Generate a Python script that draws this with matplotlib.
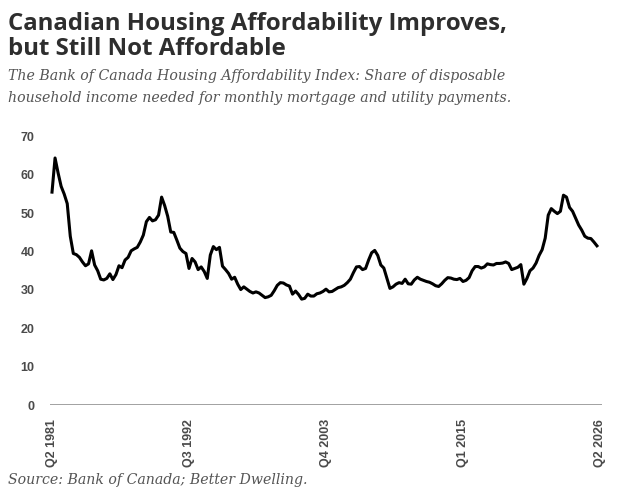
import matplotlib
matplotlib.use('Agg')
import matplotlib.pyplot as plt

# Bank of Canada Housing Affordability Index, quarterly from Q2 1981
hai = [55.5, 64.4, 60.5, 57.0, 55.0, 52.5, 44.0, 39.5, 39.2, 38.5,
       37.3, 36.3, 36.8, 40.2, 36.5, 35.0, 32.8, 32.6, 33.0, 34.2,
       32.7, 34.0, 36.3, 35.8, 37.8, 38.5, 40.2, 40.7, 41.1, 42.5,
       44.3, 47.8, 48.9, 48.0, 48.3, 49.5, 54.2, 52.0, 49.2, 45.1,
       45.0, 43.0, 40.9, 40.0, 39.5, 35.6, 38.2, 37.3, 35.3, 36.0,
       34.8, 33.0, 39.1, 41.3, 40.5, 41.1, 36.2, 35.3, 34.3, 32.8,
       33.3, 31.5, 30.1, 30.8, 30.2, 29.6, 29.2, 29.5, 29.2, 28.6,
       28.0, 28.2, 28.6, 29.8, 31.2, 31.9, 31.8, 31.3, 31.0, 28.9,
       29.7, 28.8, 27.6, 27.8, 28.9, 28.4, 28.4, 29.0, 29.2, 29.6,
       30.2, 29.5, 29.6, 30.1, 30.6, 30.8, 31.2, 31.9, 32.8, 34.5,
       36.0, 36.1, 35.3, 35.6, 37.8, 39.7, 40.3, 39.0, 36.5, 35.7,
       33.0, 30.4, 30.8, 31.5, 31.9, 31.7, 32.8, 31.6, 31.5, 32.6,
       33.3, 32.8, 32.5, 32.2, 32.0, 31.6, 31.1, 30.9, 31.6, 32.5,
       33.2, 33.1, 32.8, 32.7, 33.0, 32.2, 32.5, 33.2, 35.0, 36.1,
       36.1, 35.7, 36.0, 36.8, 36.6, 36.5, 36.9, 36.9, 37.0, 37.3,
       36.9, 35.3, 35.6, 35.9, 36.6, 31.5, 33.0, 35.0, 35.7, 37.0,
       39.0, 40.5, 43.5, 49.5, 51.2, 50.5, 49.9, 50.5, 54.7, 54.2,
       51.5, 50.5, 48.7, 46.9, 45.6, 44.0, 43.5, 43.4, 42.5, 41.5]

n_quarters = 181
quarters = []
q, yr = 2, 1981
for i in range(n_quarters):
    quarters.append('Q{} {}'.format(q, yr))
    q += 1
    if q > 4:
        q = 1
        yr += 1
tick_idx = [0, 45, 90, 135, 180]
y_ticks = [0, 10, 20, 30, 40, 50, 60, 70]

W, H = 640, 494
fig = plt.figure(figsize=(W / 100, H / 100), dpi=100)
fig.patch.set_facecolor('white')
ax = fig.add_axes([50 / W, 1 - 405 / H, 552 / W, (405 - 136.5) / H])

ax.plot(range(len(hai)), hai, color='black', lw=2.2, solid_joinstyle='round')
ax.axhline(0, color='#9a9a9a', lw=1.3)

ax.set_xlim(-0.66, 180.66)
ax.set_ylim(0, 70)
for s in ax.spines.values():
    s.set_visible(False)
ax.set_yticks(y_ticks)
ax.set_yticklabels([str(v) for v in y_ticks])
ax.set_xticks(tick_idx)
ax.set_xticklabels([quarters[i] for i in tick_idx], rotation=90)
ax.tick_params(axis='both', length=0, colors='#4a4a4a', labelsize=9)
ax.tick_params(axis='y', pad=11)
ax.tick_params(axis='x', pad=10)
for lab in ax.get_xticklabels() + ax.get_yticklabels():
    lab.set_family('Liberation Sans')
    lab.set_fontweight('bold')

title_font = dict(family='Open Sans', weight='bold', color='#2e2e2e', size=17.3)
fig.text(8 / W, 1 - 30 / H, 'Canadian Housing Affordability Improves,', va='baseline', **title_font)
fig.text(8 / W, 1 - 55 / H, 'but Still Not Affordable', va='baseline', **title_font)

sub_font = dict(family='DejaVu Serif', style='italic', color='#555555', size=10.2)
fig.text(8 / W, 1 - 80 / H, 'The Bank of Canada Housing Affordability Index: Share of disposable',
         va='baseline', **sub_font)
fig.text(8 / W, 1 - 102 / H, 'household income needed for monthly mortgage and utility payments.',
         va='baseline', **sub_font)
fig.text(8 / W, 1 - 484 / H, 'Source: Bank of Canada; Better Dwelling.', va='baseline', **sub_font)

fig.savefig('out.png', dpi=100, facecolor='white')
